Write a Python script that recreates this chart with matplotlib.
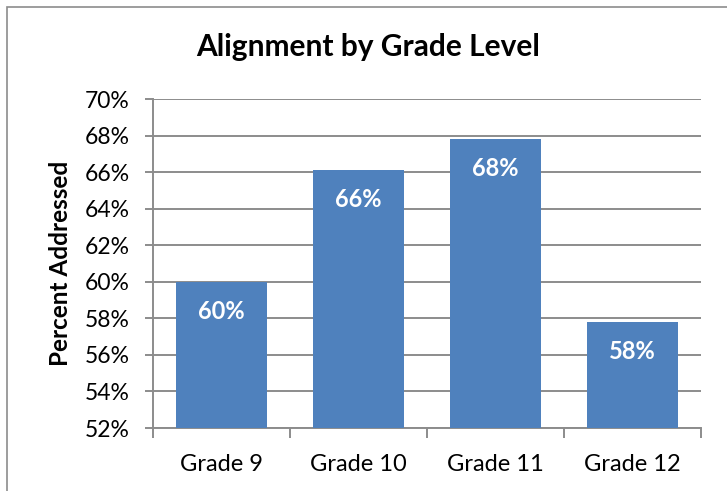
import matplotlib
matplotlib.use("Agg")
import matplotlib.pyplot as plt
from matplotlib.patches import Rectangle

# Share of standards addressed per grade
grades = ["Grade 9", "Grade 10", "Grade 11", "Grade 12"]
percent = [60.0, 66.1, 67.8, 57.8]
yticks = [52, 54, 56, 58, 60, 62, 64, 66, 68, 70]

plt.rcParams['font.family'] = ['Lato', 'DejaVu Sans']

fig = plt.figure(figsize=(7.27, 4.91), dpi=100)
W, H = 727, 491

# chart border
fig.patches.append(Rectangle((7 / W, -0.1), 1.1, 1 - 7 / H + 0.1,
                             transform=fig.transFigure, fill=False,
                             edgecolor="#8c8c8c", linewidth=1.2))

ax = fig.add_axes([153 / W, (H - 428) / H, 548 / W, 329 / H])

x = range(len(grades))
bars = ax.bar(x, [p - 52 for p in percent], bottom=52, width=0.66,
              color="#4f81bd", zorder=3)

for b, p in zip(bars, percent):
    ax.text(b.get_x() + b.get_width() / 2, p - 1.6, f"{p:.0f}%",
            ha="center", va="center", color="white",
            fontsize=17, fontweight="bold", zorder=4)

ax.set_ylim(52, 70)
ax.set_xlim(-0.5, 3.5)
ax.set_yticks(yticks)
ax.set_yticklabels([f"{t}%" for t in yticks], fontsize=16.5)
ax.yaxis.grid(True, color="#8c8c8c", linewidth=1.4, zorder=0)

ax.set_xticks([-0.5, 0.5, 1.5, 2.5, 3.5])
ax.set_xticklabels([])
ax.set_xticks(list(x), minor=True)
ax.set_xticklabels(grades, minor=True, fontsize=17)
ax.tick_params(axis="x", which="minor", length=0, pad=19)
ax.tick_params(axis="x", which="major", length=7, width=1.4, color="#8c8c8c")
ax.tick_params(axis="y", length=6, width=1.4, color="#8c8c8c", pad=11)

for s in ["top", "right"]:
    ax.spines[s].set_visible(False)
for s in ["left", "bottom"]:
    ax.spines[s].set_color("#8c8c8c")
    ax.spines[s].set_linewidth(1.4)

fig.text(368 / W, 1 - 47 / H, "Alignment by Grade Level", ha="center",
         va="center", fontsize=21.5, fontweight="bold")
fig.text(60 / W, 1 - 263 / H, "Percent Addressed", ha="center", va="center",
         rotation=90, fontsize=17.5, fontweight="bold")

fig.savefig("out.png", dpi=100)
